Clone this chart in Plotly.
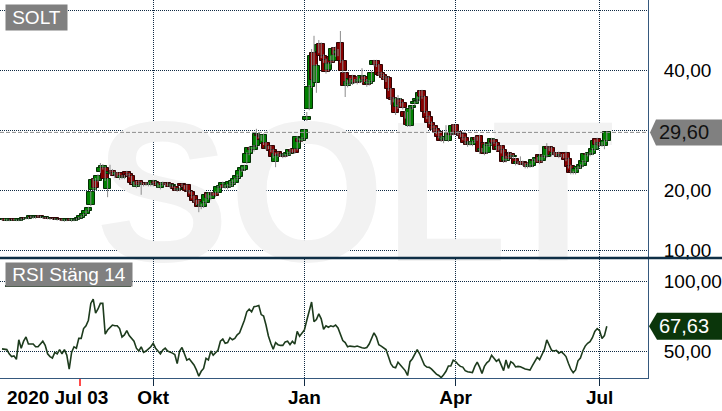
import plotly.graph_objects as go

# ---------------- data ----------------
ticker = "SOLT"
start_label = "2020 Jul 03"

open_ = [
    15.1, 15.0, 15.1, 14.9, 15.0, 15.1, 15.0, 14.9, 15.0, 15.2,
    15.3, 15.2, 15.4, 15.5, 15.3, 15.5, 15.6, 15.4, 15.3, 15.4,
    15.2, 15.1, 15.2, 15.1, 15.0, 15.1, 15.0, 14.9, 15.0, 15.1,
    14.9, 15.0, 15.2, 15.4, 15.7, 16.0, 16.5, 17.5, 20.0, 21.8,
    21.5, 23.0, 23.7, 23.7, 20.2, 22.7, 23.2, 22.9, 22.5, 22.8,
    22.0, 22.3, 23.0, 22.6, 22.3, 21.2, 20.5, 21.5, 21.2, 20.8,
    21.2, 21.1, 20.8, 20.8, 21.4, 21.0, 20.3, 21.1, 20.9, 21.1,
    21.0, 20.6, 20.5, 20.2, 20.0, 21.0, 20.7, 20.8, 19.9, 19.7,
    19.0, 18.2, 18.3, 17.3, 17.2, 17.8, 19.5, 18.5, 19.4, 19.5,
    19.5, 20.4, 20.5, 20.8, 20.3, 20.5, 20.8, 21.2, 21.8, 22.2,
    23.2, 23.4, 24.5, 26.0, 27.0, 26.6, 27.3, 29.2, 28.9, 27.7,
    27.8, 27.0, 27.3, 26.7, 24.7, 26.3, 25.7, 26.0, 25.6, 25.7,
    26.0, 26.6, 26.8, 26.8, 28.5, 28.2, 28.5, 31.7, 33.5, 37.2,
    42.8, 37.8, 43.0, 44.3, 42.3, 41.7, 40.0, 42.2, 41.5, 43.7,
    42.6, 44.5, 41.5, 39.5, 37.4, 37.7, 39.0, 37.9, 38.8, 38.0,
    38.0, 38.8, 38.3, 37.6, 38.0, 40.8, 41.5, 40.8, 39.5, 39.2,
    38.8, 38.7, 36.8, 35.3, 35.2, 33.8, 35.0, 34.5, 33.0, 32.8,
    30.7, 33.6, 34.3, 34.8, 35.0, 36.5, 35.5, 33.0, 32.2, 31.2,
    30.6, 30.2, 29.7, 28.9, 28.3, 28.5, 28.2, 29.4, 29.3, 30.8,
    29.6, 29.5, 29.3, 28.7, 28.0, 27.6, 27.5, 28.0, 28.6, 29.0,
    26.5, 27.8, 26.2, 27.4, 27.6, 28.4, 27.8, 26.8, 27.3, 26.7,
    24.8, 26.2, 26.0, 25.5, 25.2, 24.4, 24.6, 24.7, 24.3, 24.5,
    23.9, 24.0, 25.0, 24.9, 25.8, 24.8, 25.6, 25.5, 27.1, 27.0,
    25.9, 26.2, 26.2, 25.6, 25.8, 26.2, 25.2, 24.0, 23.0, 22.8,
    23.5, 23.8, 24.0, 24.7, 25.9, 25.8, 26.0, 26.7, 28.5, 27.5,
    27.7, 27.3, 28.2,
]

close = [
    15.0, 15.1, 14.9, 15.0, 15.1, 15.0, 14.9, 15.0, 15.2, 15.3,
    15.2, 15.4, 15.5, 15.3, 15.5, 15.6, 15.4, 15.3, 15.4, 15.2,
    15.1, 15.2, 15.1, 15.0, 15.1, 15.0, 14.9, 15.0, 15.1, 14.9,
    15.0, 15.2, 15.4, 15.7, 16.0, 16.5, 17.0, 19.6, 21.6, 20.4,
    22.3, 23.6, 24.0, 21.8, 21.8, 23.0, 22.8, 22.4, 22.8, 22.0,
    22.3, 22.1, 22.5, 22.3, 21.2, 20.9, 21.3, 20.8, 20.8, 21.0,
    20.9, 20.8, 21.0, 21.5, 21.0, 20.7, 21.1, 20.9, 21.0, 20.8,
    20.5, 20.7, 20.1, 19.9, 20.2, 20.7, 20.3, 19.9, 19.7, 18.8,
    18.1, 17.8, 17.2, 17.5, 18.0, 19.2, 18.7, 19.5, 19.2, 19.0,
    20.5, 20.6, 21.2, 20.4, 20.8, 21.3, 21.5, 21.8, 22.4, 23.2,
    23.6, 24.0, 26.0, 27.0, 26.6, 27.2, 29.3, 29.0, 28.4, 29.2,
    26.9, 27.2, 26.5, 25.5, 26.0, 25.7, 25.9, 25.5, 25.8, 26.2,
    26.7, 26.4, 26.2, 28.8, 28.0, 28.6, 30.0, 32.2, 37.2, 42.3,
    38.3, 40.7, 44.2, 42.3, 41.5, 39.7, 41.0, 41.2, 43.5, 42.5,
    43.2, 41.5, 39.8, 37.3, 38.0, 38.5, 37.8, 38.3, 37.9, 38.4,
    39.0, 38.3, 37.5, 38.0, 39.5, 41.5, 40.8, 39.2, 39.0, 38.7,
    38.3, 36.8, 35.2, 35.0, 32.8, 35.2, 34.2, 33.7, 32.2, 30.8,
    33.5, 34.0, 34.6, 35.2, 36.2, 35.5, 33.0, 32.0, 31.2, 30.3,
    30.0, 29.5, 28.9, 28.2, 28.6, 28.9, 29.5, 29.2, 30.7, 29.5,
    29.4, 29.0, 28.5, 27.8, 27.5, 27.9, 28.0, 28.7, 28.4, 26.3,
    26.8, 26.0, 27.5, 27.7, 28.5, 27.9, 26.7, 27.2, 26.3, 24.7,
    25.5, 25.2, 25.5, 25.7, 24.3, 24.6, 24.4, 24.2, 24.1, 23.8,
    24.2, 25.0, 24.8, 25.3, 24.5, 25.7, 25.5, 27.2, 26.8, 25.8,
    26.2, 25.9, 25.5, 25.8, 25.5, 25.0, 23.8, 22.8, 22.9, 23.5,
    23.8, 24.1, 24.8, 26.0, 25.8, 26.1, 26.8, 28.2, 27.5, 27.8,
    27.4, 28.2, 29.6,
]

high = [
    15.2, 15.2, 15.2, 15.1, 15.2, 15.2, 15.1, 15.1, 15.3, 15.4,
    15.4, 15.5, 15.7, 15.6, 15.6, 15.8, 15.7, 15.5, 15.5, 15.5,
    15.3, 15.3, 15.3, 15.2, 15.2, 15.2, 15.1, 15.1, 15.2, 15.2,
    15.1, 15.3, 15.5, 15.8, 16.1, 16.7, 17.2, 19.8, 21.9, 22.0,
    22.6, 24.5, 24.3, 23.9, 22.0, 24.2, 23.5, 23.1, 23.0, 22.9,
    22.5, 22.5, 23.2, 22.8, 22.4, 21.4, 21.5, 21.6, 21.4, 21.2,
    21.3, 21.3, 21.2, 21.7, 21.5, 21.1, 21.3, 21.4, 21.2, 21.3,
    21.1, 20.9, 20.6, 20.3, 20.4, 21.1, 20.8, 20.9, 20.0, 19.8,
    19.1, 18.4, 18.4, 17.7, 18.2, 19.4, 19.6, 19.7, 19.6, 19.8,
    20.7, 20.8, 21.4, 20.9, 21.0, 21.5, 21.7, 22.0, 22.6, 23.4,
    23.8, 24.2, 26.3, 27.3, 27.2, 27.5, 30.2, 29.6, 29.2, 29.4,
    28.0, 27.4, 27.4, 26.8, 26.2, 26.4, 26.1, 26.1, 26.0, 26.4,
    26.9, 26.8, 26.9, 29.0, 28.6, 28.8, 30.2, 33.0, 37.5, 43.5,
    45.7, 41.0, 45.0, 44.6, 42.6, 41.9, 41.3, 42.4, 43.8, 43.9,
    43.5, 46.5, 41.7, 39.7, 38.3, 38.7, 39.2, 38.5, 39.0, 38.6,
    40.3, 39.0, 38.5, 38.3, 39.8, 41.7, 41.7, 41.0, 39.7, 39.4,
    39.0, 38.9, 37.0, 35.5, 35.4, 35.8, 35.3, 34.7, 33.2, 33.0,
    33.8, 34.2, 34.8, 35.6, 36.6, 36.7, 35.7, 33.2, 32.4, 31.4,
    30.8, 30.4, 29.9, 29.1, 28.8, 30.8, 29.7, 29.6, 31.0, 31.0,
    29.8, 29.7, 29.4, 28.9, 28.2, 28.1, 28.2, 28.9, 28.9, 29.2,
    27.0, 28.0, 27.7, 27.9, 28.7, 28.6, 28.0, 27.4, 27.5, 26.9,
    25.7, 26.4, 26.2, 25.9, 25.4, 24.8, 25.6, 24.9, 24.5, 24.6,
    24.4, 25.2, 25.2, 25.5, 26.0, 25.9, 25.8, 27.8, 27.3, 27.2,
    26.4, 26.3, 26.4, 26.0, 26.0, 26.4, 25.4, 24.2, 23.2, 23.7,
    24.0, 24.3, 25.0, 26.2, 26.1, 26.3, 27.0, 28.4, 28.7, 28.0,
    28.0, 28.4, 29.8,
]

low = [
    14.9, 14.9, 14.8, 14.8, 14.9, 14.9, 14.8, 14.8, 14.9, 15.1,
    15.1, 15.1, 15.3, 15.2, 15.2, 15.4, 15.3, 15.2, 15.2, 15.1,
    15.0, 15.0, 15.0, 14.9, 14.9, 14.8, 14.7, 14.8, 14.9, 14.7,
    14.8, 14.9, 15.1, 15.3, 15.6, 15.9, 16.4, 17.3, 19.8, 20.0,
    21.3, 22.8, 23.4, 21.5, 18.8, 22.5, 22.5, 22.0, 22.2, 21.7,
    21.8, 21.8, 22.3, 22.1, 21.0, 20.6, 20.3, 20.6, 19.2, 20.6,
    20.7, 20.6, 20.6, 20.6, 20.8, 20.4, 20.1, 20.7, 20.6, 20.6,
    20.3, 20.4, 19.9, 19.7, 19.8, 20.5, 20.1, 19.7, 19.4, 18.6,
    17.9, 17.5, 16.3, 16.8, 17.0, 17.6, 18.4, 18.3, 19.0, 18.8,
    19.3, 20.2, 20.3, 20.2, 20.1, 20.4, 20.6, 21.0, 21.6, 22.0,
    23.0, 23.2, 24.3, 25.8, 26.3, 26.4, 27.1, 28.6, 28.2, 27.5,
    26.7, 26.8, 26.3, 25.3, 23.8, 25.5, 25.5, 25.3, 25.4, 25.5,
    25.8, 26.2, 26.0, 26.6, 27.8, 28.0, 28.3, 31.5, 33.3, 37.0,
    38.0, 36.2, 42.8, 42.0, 41.2, 39.4, 39.8, 40.9, 41.3, 42.2,
    42.3, 41.2, 39.5, 35.5, 37.1, 37.5, 37.5, 37.7, 37.6, 37.8,
    37.8, 38.0, 37.2, 37.4, 37.8, 40.6, 40.5, 39.0, 38.7, 38.4,
    38.0, 36.5, 34.2, 34.6, 32.5, 33.5, 33.9, 33.4, 31.9, 30.5,
    30.5, 33.4, 34.1, 34.6, 34.8, 35.2, 32.8, 31.8, 31.0, 30.0,
    29.8, 29.3, 28.6, 28.0, 27.8, 28.3, 28.0, 29.0, 29.1, 29.3,
    29.1, 28.8, 28.3, 27.6, 27.2, 27.4, 27.3, 27.8, 28.2, 26.0,
    26.3, 25.8, 26.0, 27.2, 27.4, 27.7, 26.5, 26.6, 26.1, 24.5,
    24.6, 25.0, 25.3, 25.2, 24.1, 24.2, 24.2, 24.0, 23.6, 23.6,
    23.7, 23.8, 24.6, 24.7, 24.3, 24.6, 25.3, 25.3, 26.5, 25.6,
    25.7, 25.6, 25.3, 25.4, 25.3, 24.8, 23.6, 22.6, 22.6, 22.6,
    23.3, 23.6, 23.8, 24.5, 25.6, 25.6, 25.8, 26.5, 26.9, 27.2,
    27.2, 26.8, 28.0,
]

rsi = [
    51.5, 51.5, 51.0, 48.0, 46.0, 46.5, 44.0, 58.0, 52.0, 57.0,
    60.0, 55.0, 55.0, 55.0, 53.0, 53.0, 55.0, 57.0, 54.0, 48.0,
    46.0, 45.0, 49.0, 48.0, 51.0, 48.0, 51.0, 47.0, 37.0, 49.0,
    53.0, 52.0, 59.0, 59.0, 66.0, 68.0, 72.0, 84.0, 87.0, 77.0,
    80.0, 84.0, 84.0, 62.0, 65.0, 67.0, 68.5, 68.0, 68.0, 66.0,
    60.0, 61.5, 64.5, 61.0, 59.0, 57.0, 52.0, 50.0, 53.0, 49.0,
    50.0, 51.5, 53.0, 55.5, 52.0, 50.0, 48.0, 50.7, 52.0, 50.0,
    49.5, 48.5, 47.5, 41.0, 50.0, 52.5, 48.0, 43.5, 44.5, 42.4,
    40.0, 36.5, 32.0, 35.5, 37.5, 44.8, 43.6, 50.0, 47.0, 48.8,
    50.5, 57.0, 58.5, 55.5, 56.0, 59.5, 58.0, 59.0, 61.5, 63.0,
    67.0, 72.0, 78.0, 79.8, 78.0, 81.7, 82.0, 82.5, 76.0, 75.0,
    68.6, 60.7, 55.5, 51.2, 56.0, 54.5, 54.0, 54.0, 56.5, 57.0,
    54.5, 57.0, 55.0, 64.0, 60.5, 62.5, 65.0, 72.0, 78.0, 85.0,
    71.0, 72.5, 76.5, 73.0, 65.5, 68.0, 67.0, 68.0, 67.4, 68.5,
    66.5, 62.0, 57.5, 56.0, 53.0, 53.5, 53.0, 53.0, 53.5, 52.6,
    52.3, 52.0, 52.5, 55.0, 59.0, 63.0, 60.0, 54.5, 53.5, 52.5,
    51.0, 46.0, 41.0, 38.5, 38.0, 42.0, 40.0, 38.0, 36.0, 32.5,
    42.4, 44.5, 47.5, 51.0, 48.0, 44.0, 40.0, 38.5, 38.3, 37.0,
    35.0, 33.5, 32.5, 31.0, 33.0, 35.5, 39.3, 39.3, 43.5, 42.5,
    40.5, 39.0, 38.5, 36.0, 35.2, 35.0, 34.6, 39.0, 42.0, 38.5,
    34.0, 39.0, 41.5, 43.0, 47.0, 44.8, 42.6, 44.0, 40.0, 36.0,
    43.6, 37.6, 42.4, 41.2, 38.6, 39.0, 38.8, 37.8, 37.2, 36.8,
    36.4, 39.5, 42.5, 45.5, 43.8, 47.0, 51.0, 57.9, 53.6, 50.5,
    50.0, 50.5, 48.5, 49.5, 48.0, 46.0, 41.2, 37.0, 34.5, 36.5,
    43.0, 45.0, 50.0, 53.5, 55.5, 56.7, 59.5, 64.0, 66.0, 64.5,
    59.0, 61.0, 67.63,
]

day = list(range(len(close)))             # trading-day index (0 = 2020 Jul 03)
month_tick_idx = [63, 126, 189, 249]
month_tick_text = ["Okt", "Jan", "Apr", "Jul"]
marker_idx = 32.5
price_ticks = [10, 20, 30, 40, 50]
price_tick_text = ["10,00", "20,00", "", "40,00", ""]
rsi_ticks = [50, 100]
rsi_tick_text = ["50,00", "100,00"]

# ---------------- styling ----------------
FONT = "Liberation Sans, Arial, sans-serif"
GRID = "#102a43"
BORDER = "#35587d"
UP_FILL, DOWN_FILL = "#008000", "#850000"
UP_LINE, DOWN_LINE = "#042e04", "#300404"
WICK = "#8c8c8c"
RSI_COLOR = "#1d3b1d"
PLOT_W, PLOT_H = 648, 378

up = [c >= o for o, c in zip(open_, close)]
body_base = [min(o, c) for o, c in zip(open_, close)]
body_h = [max(abs(c - o), 0.2) for o, c in zip(open_, close)]

wick_x, wick_y = [], []
for i, h, l in zip(day, high, low):
    wick_x += [i, i, None]
    wick_y += [l, h, None]

price_range = [10 - 7 / 6, 10 + 250 / 6]
x_range = [-2 / 2.4, (PLOT_W - 2) / 2.4]

fig = go.Figure()

# watermark on the base price subplot (drawn underneath the overlaid candle subplot)
fig.add_trace(go.Scatter(
    x=[147.1], y=[16.5], mode="text", text=[ticker],
    textfont=dict(size=200, color="#f2f2f2", family=FONT, weight="bold"),
    textposition="middle center", cliponaxis=False, hoverinfo="skip",
    xaxis="x", yaxis="y"))

# candles on an overlaid copy of the price axis
fig.add_trace(go.Scatter(
    x=wick_x, y=wick_y, mode="lines", line=dict(color=WICK, width=1),
    hoverinfo="skip", xaxis="x", yaxis="y3"))

fig.add_trace(go.Bar(
    x=day, y=body_h, base=body_base, width=3.1,
    marker=dict(color=[UP_FILL if u else DOWN_FILL for u in up],
                line=dict(color=[UP_LINE if u else DOWN_LINE for u in up], width=1)),
    hoverinfo="skip", xaxis="x", yaxis="y3"))

fig.add_trace(go.Scatter(
    x=day, y=rsi, mode="lines", line=dict(color=RSI_COLOR, width=1.6),
    hoverinfo="skip", xaxis="x2", yaxis="y2"))

grid_common = dict(showgrid=True, gridcolor=GRID, gridwidth=1, griddash="1px,1px", zeroline=False)

fig.update_layout(
    width=722, height=411, autosize=False,
    margin=dict(l=0, r=74, t=0, b=33, pad=0),
    paper_bgcolor="white", plot_bgcolor="rgba(0,0,0,0)",
    showlegend=False, separators=", ", hovermode=False,
    barmode="overlay", bargap=0,
    font=dict(family=FONT, color="#000000"),
    xaxis=dict(domain=[0, 1], range=x_range, anchor="y", tickvals=month_tick_idx,
               showticklabels=False, ticks="", showline=False, **grid_common),
    yaxis=dict(domain=[(PLOT_H - 257) / PLOT_H, 1], range=price_range,
               anchor="x", side="right", tickvals=price_ticks, ticktext=price_tick_text,
               tickfont=dict(size=19), ticks="outside", ticklen=11,
               tickcolor="rgba(0,0,0,0)", showline=True, linecolor=BORDER, linewidth=1,
               **grid_common),
    yaxis3=dict(overlaying="y", anchor="x", side="right", range=price_range,
                showgrid=False, zeroline=False, showticklabels=False, ticks="",
                showline=False),
    xaxis2=dict(domain=[0, 1], range=x_range, anchor="y2", tickvals=month_tick_idx,
                ticktext=month_tick_text, tickfont=dict(size=19, weight="bold"),
                ticks="outside", ticklen=7, tickcolor=GRID, tickwidth=1,
                ticklabelstandoff=-5,
                showline=True, linecolor=BORDER, linewidth=1, **grid_common),
    yaxis2=dict(domain=[0, (PLOT_H - 259) / PLOT_H], range=[50 - 27 / 1.4, 50 + 92 / 1.4],
                anchor="x2", side="right", tickvals=rsi_ticks, ticktext=rsi_tick_text,
                tickfont=dict(size=19), ticks="outside", ticklen=11,
                tickcolor="rgba(0,0,0,0)", showline=True, linecolor=BORDER, linewidth=1,
                **grid_common),
)

last_close = close[-1]
last_rsi = rsi[-1]

shapes = [
    dict(type="line", xref="paper", x0=0, x1=1, yref="y", y0=last_close, y1=last_close,
         line=dict(color="#8f8f8f", width=1, dash="4px,2px"), layer="above"),
    dict(type="line", xref="paper", x0=0, x1=722 / PLOT_W, yref="paper",
         y0=(PLOT_H - 258) / PLOT_H, y1=(PLOT_H - 258) / PLOT_H,
         line=dict(color="#0f2f46", width=2.5), layer="above"),
    dict(type="path", xref="paper", xsizemode="pixel", xanchor=1,
         yref="y", ysizemode="pixel", yanchor=last_close,
         path="M 2,0 L 8,13 L 74,13 L 74,-13 L 8,-13 Z",
         fillcolor="#808080", line=dict(width=0), layer="above"),
    dict(type="path", xref="paper", xsizemode="pixel", xanchor=1,
         yref="y2", ysizemode="pixel", yanchor=last_rsi,
         path="M 1,0 L 9,13.5 L 74,13.5 L 74,-13.5 L 9,-13.5 Z",
         fillcolor="#0b360b", line=dict(width=0), layer="above"),
    dict(type="rect", xref="paper", x0=5 / PLOT_W, x1=131 / PLOT_W, yref="paper",
         y0=(PLOT_H - 287) / PLOT_H, y1=(PLOT_H - 285) / PLOT_H,
         fillcolor=RSI_COLOR, line=dict(width=0), layer="above"),
    dict(type="line", xref="x2", x0=marker_idx, x1=marker_idx, yref="paper",
         y0=-1 / PLOT_H, y1=-8 / PLOT_H, line=dict(color="#ff4a4a", width=2), layer="above"),
]
fig.update_layout(shapes=shapes)

annotations = [
    dict(text=ticker, xref="paper", yref="paper", x=5 / PLOT_W, y=1 - 4 / PLOT_H,
         xanchor="left", yanchor="top", showarrow=False, bgcolor="#808080",
         width=61, height=25, borderpad=0, align="center",
         font=dict(size=19, color="white", family=FONT)),
    dict(text="RSI Stäng 14", xref="paper", yref="paper", x=5 / PLOT_W,
         y=(PLOT_H - 262) / PLOT_H, xanchor="left", yanchor="top", showarrow=False,
         bgcolor="#808080", width=126, height=23, borderpad=0, align="center",
         font=dict(size=19, color="white", family=FONT)),
    dict(text=start_label, xref="paper", yref="paper", x=5 / PLOT_W, y=0,
         xanchor="left", yanchor="middle", yshift=-19, showarrow=False,
         font=dict(size=19, color="black", family=FONT, weight="bold")),
    dict(text=f"{last_close:.2f}".replace(".", ","), xref="paper", yref="y",
         x=1, y=last_close, xanchor="left", yanchor="middle", xshift=9,
         showarrow=False, font=dict(size=20, color="#111111", family=FONT)),
    dict(text=f"{last_rsi:.2f}".replace(".", ","), xref="paper", yref="y2",
         x=1, y=last_rsi, xanchor="left", yanchor="middle", xshift=9,
         showarrow=False, font=dict(size=20, color="white", family=FONT)),
]
fig.update_layout(annotations=annotations)

fig.write_html("out.html", config={"displayModeBar": False},
               post_script="document.body.style.margin='0';")
